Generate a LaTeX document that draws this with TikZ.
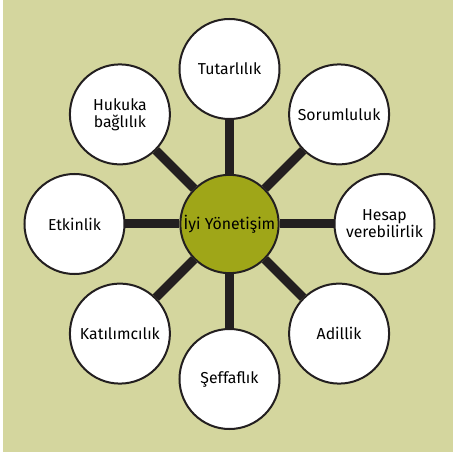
\documentclass[tikz,border=0pt]{standalone}
\usepackage{fontspec}
\setmainfont{Fira Sans}
\definecolor{zemin}{RGB}{212,214,158}
\definecolor{zeytin}{RGB}{159,166,24}
\definecolor{koyu}{RGB}{35,31,32}

\begin{document}
\begin{tikzpicture}[
	ilke/.style={circle, draw=koyu, line width=0.06cm, fill=white, minimum size=3cm, inner sep=0pt, align=center, font=\fontsize{13.5}{14.5}\selectfont},
	merkez/.style={ilke, fill=zeytin, minimum size=2.95cm},
	bag/.style={koyu, line width=0.27cm}
]
	\useasboundingbox (-6.885,-6.99) rectangle (6.705,6.72);
	\fill[zemin] (-6.795,-6.84) rectangle (6.705,6.72);

	\node[merkez] (iyi) at (0,0) {İyi Yönetişim};

	\node[ilke] (tutarlilik) at (90:4.65) {Tutarlılık};
	\node[ilke] (sorumluluk) at (45:4.65) {Sorumluluk};
	\node[ilke] (hesap) at (0:4.65) {Hesap\\verebilirlik};
	\node[ilke] (adillik) at (-45:4.65) {Adillik};
	\node[ilke] (seffaflik) at (-90:4.65) {Şeffaflık};
	\node[ilke] (katilim) at (-135:4.65) {Katılımcılık};
	\node[ilke] (etkinlik) at (180:4.65) {Etkinlik};
	\node[ilke] (hukuk) at (135:4.65) {Hukuka\\bağlılık};

	\draw[bag] (iyi) -- (tutarlilik);
	\draw[bag] (iyi) -- (sorumluluk);
	\draw[bag] (iyi) -- (hesap);
	\draw[bag] (iyi) -- (adillik);
	\draw[bag] (iyi) -- (seffaflik);
	\draw[bag] (iyi) -- (katilim);
	\draw[bag] (iyi) -- (etkinlik);
	\draw[bag] (iyi) -- (hukuk);
\end{tikzpicture}
\end{document}
